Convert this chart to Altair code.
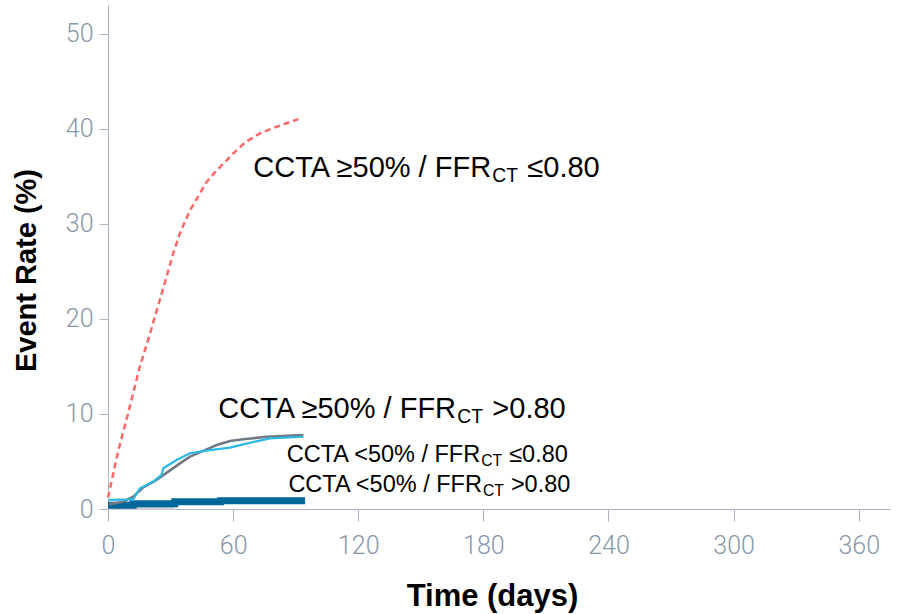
import altair as alt
import pandas as pd

# ---- data ----
red_days = [0, 2, 5, 9.7, 15.3, 19.3, 23.4, 25.8, 31.3, 34.5, 39.3, 44.1, 47.3, 52.1, 60.1, 66, 72.9, 80.9, 91.3]
red_vals = [1.2, 3.2, 6.2, 10.1, 15.0, 17.8, 20.9, 22.7, 26.9, 29.0, 31.4, 33.2, 34.4, 35.6, 37.4, 38.6, 39.5, 40.2, 41.0]

gray_days = [0.5, 7.3, 12.1, 16.9, 23.3, 28.9, 34.5, 39.3, 46.5, 52.1, 58.5, 64.9, 76.1, 93.7]
gray_vals = [0.5, 0.77, 1.3, 2.28, 3.05, 3.93, 4.8, 5.5, 6.2, 6.73, 7.15, 7.33, 7.6, 7.78]

cyan_days = [0.5, 12.1, 15.3, 21.7, 25.7, 26.5, 32.9, 39.3, 48.9, 58.5, 64.9, 77.7, 93.7]
cyan_vals = [0.95, 1.02, 2.18, 2.87, 3.58, 4.28, 5.15, 5.86, 6.2, 6.45, 6.8, 7.43, 7.6]

blue_days = [0, 12, 32, 54, 94.5]
blue_vals = [0.4, 0.55, 0.75, 0.88, 0.88]

light_days = [0, 32]
light_vals = [0.05, 0.05]

x_ticks = [0, 60, 120, 180, 240, 300, 360]
y_ticks = [0, 10, 20, 30, 40, 50]

big_x = [69.7, 52.9]
big_y = [34.9, 9.54]
big_prefix = ["CCTA ≥50% / FFR", "CCTA ≥50% / FFR"]
big_tail = ["≤0.80", ">0.80"]

small_x = [85.7, 86.5]
small_y = [4.91, 1.82]
small_prefix = ["CCTA <50% / FFR", "CCTA <50% / FFR"]
small_tail = ["≤0.80", ">0.80"]
sub_text = "CT"

X_DOMAIN = [0, 375]
Y_DOMAIN = [0, 53]

xs = alt.Scale(domain=X_DOMAIN, nice=False, zero=False)
ys = alt.Scale(domain=Y_DOMAIN, nice=False)

AXIS_COLOR = "#a9b5c4"
LABEL_COLOR = "#8797aa"

x_axis = alt.Axis(values=x_ticks, grid=False, domainColor=AXIS_COLOR, tickColor=AXIS_COLOR,
                  tickSize=12, labelPadding=12, labelFont="Roboto", labelFontWeight=300,
                  labelFontSize=25, labelColor=LABEL_COLOR, labelFlush=False,
                  title="Time (days)", titleFont="Liberation Sans", titleFontWeight="bold",
                  titleFontSize=31, titleColor="black", titleX=384, titleY=96,
                  titleBaseline="alphabetic", titleAlign="center")
y_axis = alt.Axis(values=y_ticks, grid=False, domainColor=AXIS_COLOR, tickColor=AXIS_COLOR,
                  tickSize=9, labelPadding=6, labelFont="Roboto", labelFontWeight=300,
                  labelFontSize=25, labelColor=LABEL_COLOR,
                  title="Event Rate (%)", titleFont="Liberation Sans", titleFontWeight="bold",
                  titleFontSize=29, titleColor="black", titleX=-73, titleY=265,
                  titleAngle=-90, titleBaseline="alphabetic", titleAlign="center")


def line_df(days, vals):
    return pd.DataFrame({"day": days, "rate": vals})


base_enc = dict(
    x=alt.X("day:Q", scale=xs, axis=x_axis),
    y=alt.Y("rate:Q", scale=ys, axis=y_axis),
)

light = alt.Chart(line_df(light_days, light_vals)).mark_line(
    color="#c9d0d7", strokeWidth=3).encode(**base_enc)
blue = alt.Chart(line_df(blue_days, blue_vals)).mark_line(
    color="#00679a", strokeWidth=7, interpolate="step-after").encode(**base_enc)
gray = alt.Chart(line_df(gray_days, gray_vals)).mark_line(
    color="#6f7a85", strokeWidth=2.5).encode(**base_enc)
cyan = alt.Chart(line_df(cyan_days, cyan_vals)).mark_line(
    color="#2bb8e3", strokeWidth=2.2).encode(**base_enc)
red = alt.Chart(line_df(red_days, red_vals)).mark_line(
    color="#fa6868", strokeWidth=2.5, strokeDash=[6, 4]).encode(**base_enc)

big_df = pd.DataFrame({"day": big_x, "rate": big_y, "prefix": big_prefix,
                       "sub": [sub_text] * len(big_x), "tail": big_tail})
small_df = pd.DataFrame({"day": small_x, "rate": small_y, "prefix": small_prefix,
                         "sub": [sub_text] * len(small_x), "tail": small_tail})

FONT = "Liberation Sans"


def label_layers(df, size, sub_dx, sub_dy, tail_dx):
    enc = dict(x=alt.X("day:Q", scale=xs), y=alt.Y("rate:Q", scale=ys))
    c = alt.Chart(df)
    p = c.mark_text(font=FONT, fontSize=size, align="left", baseline="alphabetic",
                    color="black").encode(text="prefix:N", **enc)
    s = c.mark_text(font=FONT, fontSize=round(size * 0.667, 1), align="left",
                    baseline="alphabetic", color="black", dx=sub_dx, dy=sub_dy).encode(text="sub:N", **enc)
    t = c.mark_text(font=FONT, fontSize=size, align="left", baseline="alphabetic",
                    color="black", dx=tail_dx).encode(text="tail:N", **enc)
    return [p, s, t]


big_layers = label_layers(big_df, 29, 239, 5, 274)
small_layers = label_layers(small_df, 23.5, 194.5, 4, 222.5)

chart = alt.layer(light, blue, gray, cyan, red, *big_layers, *small_layers).properties(
    width=782, height=504,
    background="white",
    autosize=alt.AutoSizeParams(type="none"),
    padding={"left": 108, "top": 5, "right": 13, "bottom": 105},
).configure_view(strokeWidth=0)

chart.save("out.html", embed_options={"renderer": "svg", "actions": False})
